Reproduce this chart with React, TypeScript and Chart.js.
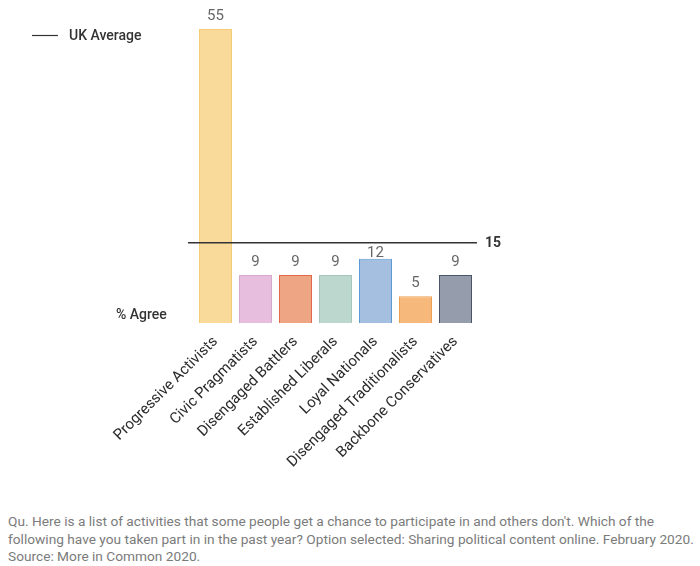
import React, { useEffect, useRef } from "react";
import { Chart, registerables } from "chart.js";

Chart.register(...registerables);

const segments = [
  "Progressive Activists",
  "Civic Pragmatists",
  "Disengaged Battlers",
  "Established Liberals",
  "Loyal Nationals",
  "Disengaged Traditionalists",
  "Backbone Conservatives",
];
const agreePct = [55, 9, 9, 9, 12, 5, 9];
const ukAverage = 15;
const fillColors = ["#F9DA9A", "#E7BEDD", "#EDA584", "#BCD7CD", "#A4BFDF", "#F7B87B", "#959CAC"];
const edgeColors = ["#F3CC74", "#D8A9CE", "#E0694B", "#A6C8BA", "#5C9AD3", "#EDA04F", "#4B5568"];

const FONT = "Roboto, 'Noto Sans', Arial, sans-serif";

const overlayPlugin = {
  id: "overlay",
  afterDatasetsDraw(chart: any) {
    const { ctx, chartArea, scales } = chart;
    const yAvg = scales.y.getPixelForValue(ukAverage);
    ctx.save();

    // UK average reference line
    ctx.strokeStyle = "#333";
    ctx.lineWidth = 1.5;
    ctx.beginPath();
    ctx.moveTo(chartArea.left - 7.5, yAvg);
    ctx.lineTo(chartArea.right + 1.5, yAvg);
    ctx.stroke();
    ctx.font = `bold 14px ${FONT}`;
    ctx.fillStyle = "#333";
    ctx.textBaseline = "middle";
    ctx.textAlign = "left";
    ctx.fillText(String(ukAverage), chartArea.right + 9.5, yAvg + 1);

    // value labels above bars
    const meta = chart.getDatasetMeta(0);
    ctx.font = `15px ${FONT}`;
    ctx.fillStyle = "#666";
    ctx.textAlign = "center";
    meta.data.forEach((bar: any, i: number) => {
      let ly = bar.y - 13;
      if (Math.abs(ly - yAvg) < 10) ly = yAvg + 10;
      ctx.fillText(String(agreePct[i]), bar.x, ly);
    });

    // legend
    ctx.strokeStyle = "#333";
    ctx.lineWidth = 1.2;
    ctx.beginPath();
    ctx.moveTo(32, 35.5);
    ctx.lineTo(58, 35.5);
    ctx.stroke();
    ctx.font = `500 14px ${FONT}`;
    ctx.fillStyle = "#333";
    ctx.textAlign = "left";
    ctx.fillText("UK Average", 69, 36);

    // measure caption
    ctx.fillText("% Agree", 116, 315);
    ctx.restore();
  },
};

export default function App() {
  const canvasRef = useRef<HTMLCanvasElement | null>(null);

  useEffect(() => {
    const canvas = canvasRef.current;
    if (!canvas) return;
    const chart = new Chart(canvas, {
      type: "bar",
      data: {
        labels: segments,
        datasets: [
          {
            data: agreePct,
            backgroundColor: fillColors,
            borderColor: edgeColors,
            borderWidth: 1,
            barPercentage: 0.825,
            categoryPercentage: 1,
          },
        ],
      },
      options: {
        animation: false,
        responsive: false,
        maintainAspectRatio: false,
        layout: { padding: { left: 195.5, right: 224.5, top: 23.7, bottom: 27 } },
        plugins: { legend: { display: false }, tooltip: { enabled: false } },
        scales: {
          x: {
            grid: { display: false },
            border: { display: false },
            ticks: {
              minRotation: 45,
              maxRotation: 45,
              autoSkip: false,
              color: "#2b2b2b",
              padding: 2,
              font: { family: FONT, size: 15 },
            },
            afterFit: (scale: any) => {
              scale.height = 150;
            },
          },
          y: { display: false, min: 0, max: 56 },
        },
      },
      plugins: [overlayPlugin],
    });
    return () => chart.destroy();
  }, []);

  return (
    <div style={{ position: "absolute", left: 0, top: 0, width: 700, height: 566, background: "#fff" }}>
      <canvas ref={canvasRef} width={700} height={500} style={{ width: 700, height: 500, display: "block" }} />
      <div
        style={{
          position: "absolute",
          left: 8,
          top: 513,
          fontFamily: FONT,
          fontSize: 13.7,
          lineHeight: "17.5px",
          color: "#7b7b7b",
          whiteSpace: "nowrap",
        }}
      >
        Qu. Here is a list of activities that some people get a chance to participate in and others don't. Which of the
        <br />
        following have you taken part in in the past year? Option selected: Sharing political content online. February 2020.
        <br />
        Source: More in Common 2020.
      </div>
    </div>
  );
}
